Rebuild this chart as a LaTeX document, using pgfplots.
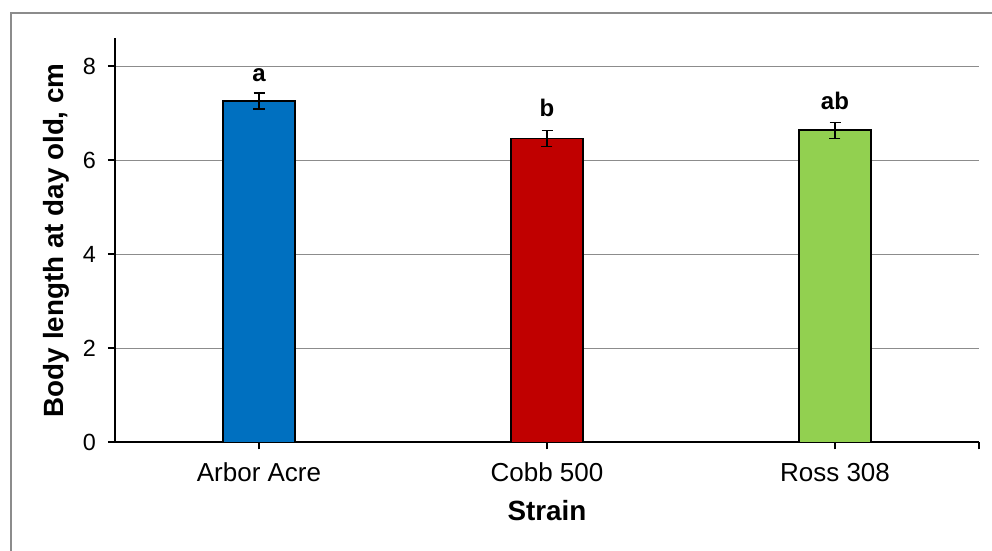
\documentclass[border=0pt]{standalone}
\usepackage{pgfplots}
\pgfplotsset{compat=1.18}
\usepackage{fontspec}
\setmainfont{Liberation Sans}
\definecolor{cA}{HTML}{0070C0}
\definecolor{cB}{HTML}{C00000}
\definecolor{cC}{HTML}{92D050}
\definecolor{gridgray}{HTML}{8C8C8C}
\begin{document}
\begin{tikzpicture}
\useasboundingbox (0,0) rectangle (496pt,275.5pt);
\begin{scope}
\clip (0,0) rectangle (496pt,275.5pt);
\draw[gridgray, line width=0.6pt] (5.5pt,-10pt) rectangle (520pt,269pt);
\end{scope}
\begin{axis}[
  at={(57.5pt,54.25pt)}, anchor=south west,
  scale only axis, width=432pt, height=202.25pt,
  xmin=-0.5, xmax=2.5, ymin=0, ymax=8.6,
  axis x line*=bottom, axis y line*=left,
  axis line style={black, line width=1pt, -},
  xtick={0,1,2}, xticklabels={Arbor Acre, Cobb 500, Ross 308},
  extra x ticks={2.5}, extra x tick labels={},
  ytick={0,2,4,6,8},
  ymajorgrids, grid style={gridgray, line width=0.6pt},
  tick style={black, line width=1pt}, tick align=outside, major tick length=3.5pt,
  /pgf/number format/assume math mode=true,
  xticklabel style={font=\fontsize{13}{15}\selectfont, anchor=base, inner sep=0pt, yshift=-16.1pt},
  yticklabel style={font=\fontsize{11.7}{13}\selectfont, anchor=east, inner sep=0pt, xshift=-5.9pt},
  xlabel={Strain}, ylabel={Body length at day old, cm},
  xlabel style={font=\bfseries\fontsize{13.9}{15}\selectfont, at={(axis description cs:0.5,0)}, anchor=center, yshift=-34.25pt},
  ylabel style={font=\bfseries\fontsize{13.9}{15}\selectfont, at={(axis description cs:0,0.5)}, anchor=center, yshift=29.5pt},
  clip=false,
]
\addplot[ybar, bar width=0.25, bar shift=0pt, fill=cA, draw=black, line width=0.7pt,
  error bars/.cd, y dir=both, y explicit,
  error bar style={black, line width=0.6pt},
  error mark options={black, line width=0.6pt, mark size=2.75pt, rotate=90}]
  coordinates {(0,7.26) +- (0,0.17)};
\addplot[ybar, bar width=0.25, bar shift=0pt, fill=cB, draw=black, line width=0.7pt,
  error bars/.cd, y dir=both, y explicit,
  error bar style={black, line width=0.6pt},
  error mark options={black, line width=0.6pt, mark size=2.75pt, rotate=90}]
  coordinates {(1,6.46) +- (0,0.17)};
\addplot[ybar, bar width=0.25, bar shift=0pt, fill=cC, draw=black, line width=0.7pt,
  error bars/.cd, y dir=both, y explicit,
  error bar style={black, line width=0.6pt},
  error mark options={black, line width=0.6pt, mark size=2.75pt, rotate=90}]
  coordinates {(2,6.64) +- (0,0.17)};
\addplot[draw=none, mark=none, nodes near coords, point meta=explicit symbolic,
  nodes near coords style={anchor=base, inner sep=0pt, font=\bfseries\fontsize{12}{14}\selectfont}]
  coordinates {(0,7.68) [a] (1,6.93) [b] (2,7.07) [ab]};
\end{axis}
\end{tikzpicture}
\end{document}
